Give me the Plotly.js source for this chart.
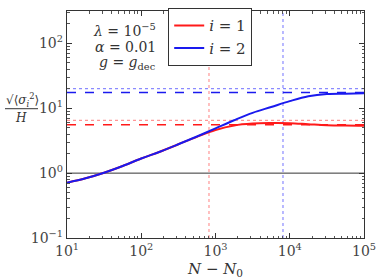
<!DOCTYPE html>
<html><head><meta charset="utf-8">
<script src="https://cdn.plot.ly/plotly-3.0.1.min.js"></script>
<style>html,body{margin:0;padding:0;background:#fff}#chart{width:380px;height:280px}</style>
</head><body><div id="chart"></div>
<script>
// N - N0 sample points
const nValues = [10, 17.8, 31.6, 56.2, 100, 178, 316, 562, 1000, 1778, 3162, 5623, 10000, 17783, 31623, 56234, 100000];
// sqrt(<sigma_i^2>)/H
const sigma1 = [0.713, 0.832, 1.012, 1.288, 1.679, 2.138, 2.786, 3.631, 4.624, 5.433, 5.821, 5.916, 5.888, 5.689, 5.495, 5.408, 5.370];
const sigma2 = [0.713, 0.832, 1.012, 1.288, 1.679, 2.138, 2.786, 3.673, 4.898, 6.531, 8.511, 10.47, 12.88, 15.31, 16.60, 16.79, 16.98];
// reference levels
const xSpan = [10, 100000];
const ySpan = [0.1, 316.2];
const dashed1 = 5.58, dotted1 = 6.5;
const dashed2 = 17.5, dotted2 = 20.1;
const nDec1 = 817, nDec2 = 8110;
const unitLevel = 1;
// tick labels
const xTickVals = [10, 100, 1000, 10000, 100000];
const xTickText = ['10<sup>1</sup>', '10<sup>2</sup>', '10<sup>3</sup>', '10<sup>4</sup>', '10<sup>5</sup>'];
const yTickVals = [0.1, 1, 10, 100];
const yTickText = ['10<sup>−1</sup>', '10<sup>0</sup>', '10<sup>1</sup>', '10<sup>2</sup>'];
const minorMultipliers = [2, 3, 4, 5, 6, 7, 8, 9];
const legendNames = ['<i>i</i> = 1', '<i>i</i> = 2'];
const paramLines = ['<i>λ</i> = 10<sup>−5</sup>', '<i>α</i> = 0.01', '<i>g</i> = <i>g</i><sub>dec</sub>'];

const minorTicks = decades => decades.flatMap(d => minorMultipliers.map(m => m * d));
const RED = '#ff1a1a', BLUE = '#1a1aee';
const serif = 'DejaVu Serif';

const traces = [
  {x: [nDec1, nDec1], y: ySpan, mode: 'lines', line: {color: 'rgba(255,80,80,0.6)', dash: 'dot', width: 1.2}, showlegend: false, hoverinfo: 'skip'},
  {x: [nDec2, nDec2], y: ySpan, mode: 'lines', line: {color: 'rgba(60,60,255,0.6)', dash: 'dot', width: 1.2}, showlegend: false, hoverinfo: 'skip'},
  {x: xSpan, y: [dotted1, dotted1], mode: 'lines', line: {color: 'rgba(255,80,80,0.6)', dash: 'dot', width: 1.2}, showlegend: false},
  {x: xSpan, y: [dotted2, dotted2], mode: 'lines', line: {color: 'rgba(60,60,255,0.6)', dash: 'dot', width: 1.2}, showlegend: false},
  {x: xSpan, y: [dashed1, dashed1], mode: 'lines', line: {color: RED, dash: 'dash', width: 1.6}, showlegend: false},
  {x: xSpan, y: [dashed2, dashed2], mode: 'lines', line: {color: BLUE, dash: 'dash', width: 1.6}, showlegend: false},
  {x: xSpan, y: [unitLevel, unitLevel], mode: 'lines', line: {color: '#333', width: 1}, showlegend: false},
  {x: nValues, y: sigma1, mode: 'lines', name: legendNames[0], line: {color: RED, width: 2, shape: 'spline'}},
  {x: nValues, y: sigma2, mode: 'lines', name: legendNames[1], line: {color: BLUE, width: 2, shape: 'spline'}}
];

const W = 297, H = 230, L = 67, T = 8;
const px = v => (v - L) / W;
const py = v => (T + H - v) / H;

const annotations = paramLines.map((t, i) => ({
  text: t, xref: 'paper', yref: 'paper', x: px(158), y: py([27, 44, 61][i]),
  xanchor: 'right', yanchor: 'middle', showarrow: false, font: {family: serif, size: 14, color: '#333'}
}));
annotations.push({text: '√⟨<i>σ</i><sub><i>i</i></sub><sup>2</sup>⟩', xref: 'paper', yref: 'paper', x: px(22), y: py(98),
  xanchor: 'center', yanchor: 'middle', showarrow: false, font: {family: serif, size: 12, color: '#333'}});
annotations.push({text: '<i>H</i>', xref: 'paper', yref: 'paper', x: px(21), y: py(116),
  xanchor: 'center', yanchor: 'middle', showarrow: false, font: {family: serif, size: 12, color: '#333'}});
annotations.push({text: '<i>N</i> − <i>N</i><sub>0</sub>', xref: 'paper', yref: 'paper', x: px(215), y: py(270),
  xanchor: 'center', yanchor: 'middle', showarrow: false, font: {family: serif, size: 15, color: '#333'}});

const shapes = [
  {type: 'line', xref: 'paper', yref: 'paper', x0: px(5), x1: px(38), y0: py(107), y1: py(107), line: {color: '#333', width: 1}}
];

const axisCommon = {
  type: 'log', tickmode: 'array', showgrid: false, zeroline: false,
  ticks: 'inside', ticklen: 5, tickcolor: '#333', showline: true, linecolor: '#333', linewidth: 1.2, mirror: 'ticks',
  tickfont: {family: serif, size: 14, color: '#444'}
};

const layout = {
  width: 380, height: 280,
  font: {family: serif},
  margin: {l: L, r: 380 - L - W, t: T, b: 280 - T - H},
  paper_bgcolor: '#fff', plot_bgcolor: '#fff',
  xaxis: Object.assign({}, axisCommon, {range: [1, 5], tickvals: xTickVals, ticktext: xTickText,
    minor: {tickmode: 'array', tickvals: minorTicks([10, 100, 1000, 10000]), ticks: 'inside', ticklen: 2.5, tickcolor: '#555', showgrid: false}}),
  yaxis: Object.assign({}, axisCommon, {range: [-1, 2.5], tickvals: yTickVals, ticktext: yTickText,
    minor: {tickmode: 'array', tickvals: minorTicks([0.1, 1, 10, 100]), ticks: 'inside', ticklen: 2.5, tickcolor: '#555', showgrid: false}}),
  showlegend: true,
  legend: {x: px(168), y: py(5), xanchor: 'left', yanchor: 'top', bgcolor: '#fff', bordercolor: '#333', borderwidth: 1.2,
    font: {family: serif, size: 15, color: '#333'}, itemwidth: 30, tracegroupgap: 0},
  annotations: annotations,
  shapes: shapes
};

Plotly.newPlot('chart', traces, layout, {displayModeBar: false, staticPlot: true});
</script></body></html>
